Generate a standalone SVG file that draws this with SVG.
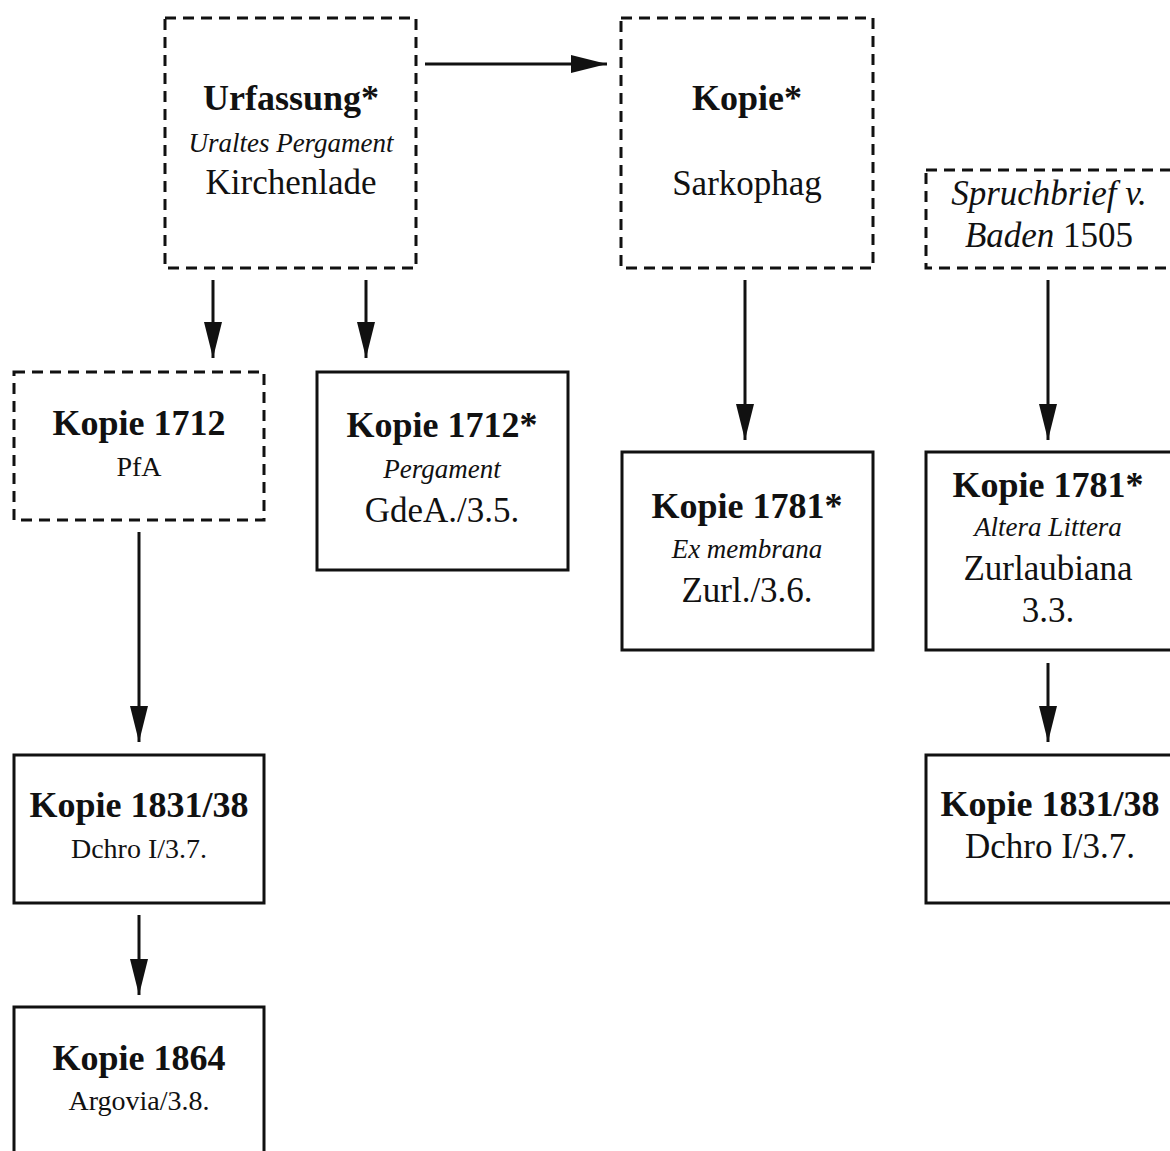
<svg xmlns="http://www.w3.org/2000/svg" width="1170" height="1151" viewBox="0 0 1170 1151">
<style>
.box{fill:#fff;stroke:#111;stroke-width:3}
.dash{stroke-dasharray:11 7}
.b{font-family:"Liberation Serif",serif;font-weight:bold;font-size:36px;fill:#111;text-anchor:middle}
.r{font-family:"Liberation Serif",serif;font-size:35px;fill:#111;text-anchor:middle}
.s{font-family:"Liberation Serif",serif;font-size:28px;fill:#111;text-anchor:middle}
.i{font-style:italic}
.si{font-family:"Liberation Serif",serif;font-style:italic;font-size:27px;fill:#111;text-anchor:middle}
.c{stroke:#111;stroke-width:3;fill:none;marker-end:url(#ah)}
</style>
<defs>
<marker id="ah" markerUnits="userSpaceOnUse" markerWidth="38" markerHeight="20" refX="36" refY="9" orient="auto">
<path d="M0,0 L36,9 L0,18 Z" fill="#111"/>
</marker>
</defs>
<rect width="1170" height="1151" fill="#fff"/>
<g id="connectors">
<line class="c" x1="425" y1="64" x2="607" y2="64"/>
<line class="c" x1="213" y1="280" x2="213" y2="358"/>
<line class="c" x1="366" y1="280" x2="366" y2="358"/>
<line class="c" x1="745" y1="280" x2="745" y2="440"/>
<line class="c" x1="1048" y1="280" x2="1048" y2="440"/>
<line class="c" x1="139" y1="532" x2="139" y2="742"/>
<line class="c" x1="1048" y1="663" x2="1048" y2="742"/>
<line class="c" x1="139" y1="915" x2="139" y2="995"/>
</g>
<g id="urfassung">
<rect class="box dash" x="165" y="18" width="251" height="250"/>
<text class="b" x="291" y="110">Urfassung*</text>
<text class="si" x="291" y="152">Uraltes Pergament</text>
<text class="r" x="291" y="194">Kirchenlade</text>
</g>
<g id="kopie-sarkophag">
<rect class="box dash" x="621" y="18" width="252" height="250"/>
<text class="b" x="747" y="110">Kopie*</text>
<text class="r" x="747" y="195">Sarkophag</text>
</g>
<g id="spruchbrief">
<rect class="box dash" x="926" y="170" width="260" height="98"/>
<text class="r i" x="1049" y="205">Spruchbrief v.</text>
<text class="r" x="1049" y="247"><tspan class="i">Baden</tspan> 1505</text>
</g>
<g id="kopie1712-pfa">
<rect class="box dash" x="14" y="372" width="250" height="148"/>
<text class="b" x="139" y="435">Kopie 1712</text>
<text class="s" x="139" y="476">PfA</text>
</g>
<g id="kopie1712-gdea">
<rect class="box" x="317" y="372" width="251" height="198"/>
<text class="b" x="442" y="437">Kopie 1712*</text>
<text class="si" x="442" y="478">Pergament</text>
<text class="r" x="442" y="522">GdeA./3.5.</text>
</g>
<g id="kopie1781-zurl">
<rect class="box" x="622" y="452" width="251" height="198"/>
<text class="b" x="747" y="518">Kopie 1781*</text>
<text class="si" x="747" y="558">Ex membrana</text>
<text class="r" x="747" y="602">Zurl./3.6.</text>
</g>
<g id="kopie1781-altera">
<rect class="box" x="926" y="452" width="260" height="198"/>
<text class="b" x="1048" y="497">Kopie 1781*</text>
<text class="si" x="1048" y="536">Altera Littera</text>
<text class="r" x="1048" y="580">Zurlaubiana</text>
<text class="r" x="1048" y="622">3.3.</text>
</g>
<g id="kopie1831-right">
<rect class="box" x="926" y="755" width="260" height="148"/>
<text class="b" x="1050" y="816">Kopie 1831/38</text>
<text class="r" x="1050" y="858">Dchro I/3.7.</text>
</g>
<g id="kopie1831-left">
<rect class="box" x="14" y="755" width="250" height="148"/>
<text class="b" x="139" y="817">Kopie 1831/38</text>
<text class="s" x="139" y="858">Dchro I/3.7.</text>
</g>
<g id="kopie1864">
<rect class="box" x="14" y="1007" width="250" height="160"/>
<text class="b" x="139" y="1070">Kopie 1864</text>
<text class="s" x="139" y="1110">Argovia/3.8.</text>
</g>
</svg>
